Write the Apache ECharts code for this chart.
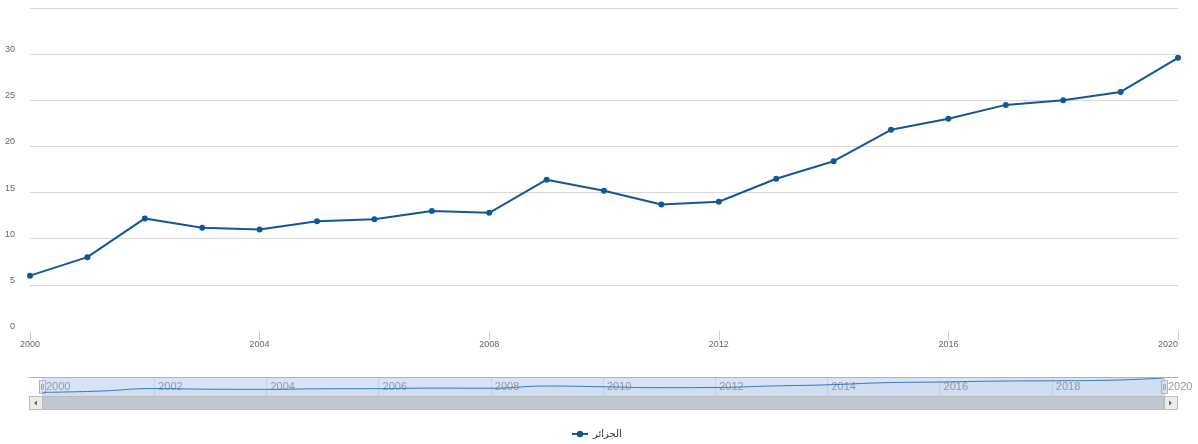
<!DOCTYPE html>
<html>
<head>
<meta charset="utf-8">
<script src="https://cdn.jsdelivr.net/npm/echarts@6/dist/echarts.min.js"></script>
<style>
html,body{margin:0;padding:0;background:#fff;}
#chart{width:1198px;height:444px;}
</style>
</head>
<body>
<div id="chart"></div>
<script>
var seriesName = 'الجزائر';
var years = [2000, 2001, 2002, 2003, 2004, 2005, 2006, 2007, 2008, 2009, 2010,
             2011, 2012, 2013, 2014, 2015, 2016, 2017, 2018, 2019, 2020];
var values = [6.0, 8.0, 12.2, 11.2, 11.0, 11.9, 12.1, 13.0, 12.8, 16.4, 15.2,
              13.7, 14.0, 16.5, 18.4, 21.8, 23.0, 24.5, 25.0, 25.9, 29.6];
var yTicks = [0, 5, 10, 15, 20, 25, 30, 35];
var xTicksMain = [2000, 2004, 2008, 2012, 2016, 2020];
var xTicksNav = [2000, 2002, 2004, 2006, 2008, 2010, 2012, 2014, 2016, 2018, 2020];

var points = years.map(function (y, i) { return [y, values[i]]; });
var FONT = '"Liberation Sans", Arial, "DejaVu Sans", sans-serif';

var chart = echarts.init(document.getElementById('chart'), null, {renderer: 'canvas'});

function handle(x) {
  return {
    type: 'group', x: x, y: 380, z: 100,
    children: [
      {type: 'rect', shape: {x: 0.5, y: 0.5, width: 6, height: 13},
       style: {fill: '#EBE7E8', stroke: '#B2B1B6', lineWidth: 1}},
      {type: 'line', shape: {x1: 2.5, y1: 4, x2: 2.5, y2: 10}, style: {stroke: '#A8A7AC', lineWidth: 1}},
      {type: 'line', shape: {x1: 4.5, y1: 4, x2: 4.5, y2: 10}, style: {stroke: '#A8A7AC', lineWidth: 1}}
    ]
  };
}
function button(x, dir) {
  var cx = x + 6.5, cy = 403;
  var pts = dir < 0 ? [[cx + 1.5, cy - 2.5], [cx + 1.5, cy + 2.5], [cx - 1.5, cy]]
                    : [[cx - 1.5, cy - 2.5], [cx - 1.5, cy + 2.5], [cx + 1.5, cy]];
  return {
    type: 'group', z: 100,
    children: [
      {type: 'rect', shape: {x: x + 0.5, y: 396.5, width: 13, height: 13},
       style: {fill: '#EBEBEB', stroke: '#BBBBBB', lineWidth: 1}},
      {type: 'polygon', shape: {points: pts}, style: {fill: '#666666'}}
    ]
  };
}

var option = {
  animation: false,
  backgroundColor: '#ffffff',
  textStyle: {fontFamily: FONT},
  grid: [
    {left: 30, right: 20, top: 8, height: 323, containLabel: false},
    {left: 42, right: 34, top: 378, height: 18, show: true,
     backgroundColor: '#D6E4F5', borderWidth: 0, containLabel: false}
  ],
  xAxis: [
    {
      type: 'value', gridIndex: 0, min: xTicksMain[0], max: xTicksMain[xTicksMain.length - 1], interval: 4,
      axisLine: {show: false},
      axisTick: {show: true, length: 9, lineStyle: {color: '#C0D0E0', width: 1}},
      splitLine: {show: false},
      axisLabel: {color: '#666666', fontSize: 9, margin: 9, fontFamily: FONT,
                  alignMinLabel: 'center', alignMaxLabel: 'right',
                  formatter: function (v) { return String(v); }}
    },
    {
      type: 'value', gridIndex: 1, min: xTicksNav[0], max: xTicksNav[xTicksNav.length - 1], interval: 2,
      axisLine: {show: false}, axisTick: {show: false},
      splitLine: {show: true, lineStyle: {color: '#C4D3E6', width: 1}},
      axisLabel: {inside: true, margin: 9, align: 'left', verticalAlign: 'middle',
                  alignMinLabel: 'left', alignMaxLabel: 'left',
                  padding: [0, 0, 0, 4], color: '#999999', fontSize: 11, fontFamily: FONT,
                  showMinLabel: true, showMaxLabel: true,
                  formatter: function (v) { return String(v); }}
    }
  ],
  yAxis: [
    {
      type: 'value', gridIndex: 0, min: yTicks[0], max: yTicks[yTicks.length - 1], interval: 5,
      axisLine: {show: false}, axisTick: {show: false},
      splitLine: {show: true, showMinLine: false, lineStyle: {color: '#D8D8D8', width: 1}},
      axisLabel: {color: '#666666', fontSize: 9, margin: 15, verticalAlign: 'bottom',
                  showMaxLabel: false, fontFamily: FONT}
    },
    {
      type: 'value', gridIndex: 1, min: 0, max: 'dataMax', show: false,
      splitLine: {show: false}
    }
  ],
  legend: {
    data: [seriesName],
    left: 566, top: 424,
    itemWidth: 16, itemHeight: 8, itemGap: 6,
    textStyle: {color: '#333333', fontSize: 10, fontFamily: FONT}
  },
  series: [
    {
      name: seriesName, type: 'line', xAxisIndex: 0, yAxisIndex: 0,
      data: points,
      color: '#13579B',
      lineStyle: {width: 2, color: '#13579B'},
      itemStyle: {color: '#13579B'},
      symbol: 'circle', symbolSize: 6, showSymbol: true,
      z: 5
    },
    {
      name: 'nav', type: 'line', xAxisIndex: 1, yAxisIndex: 1,
      data: points, smooth: true,
      lineStyle: {width: 1, color: '#3D72B8'},
      areaStyle: {color: 'rgba(69,114,167,0.06)'},
      symbol: 'none', silent: true, legendHoverLink: false
    }
  ],
  graphic: [
    {type: 'line', z: 100, shape: {x1: 29, y1: 377.5, x2: 1178, y2: 377.5},
     style: {stroke: '#B2B2B2', lineWidth: 1}},
    {type: 'rect', z: 99, shape: {x: 42.5, y: 396.5, width: 1121, height: 13},
     style: {fill: '#BFC8D1', stroke: '#BBBBBB', lineWidth: 1}},
    button(29, -1),
    button(1164, 1),
    {type: 'group', z: 100, children: [
      {type: 'line', shape: {x1: 600.5, y1: 400.5, x2: 600.5, y2: 405.5}, style: {stroke: '#555', lineWidth: 1}},
      {type: 'line', shape: {x1: 602.5, y1: 400.5, x2: 602.5, y2: 405.5}, style: {stroke: '#555', lineWidth: 1}},
      {type: 'line', shape: {x1: 604.5, y1: 400.5, x2: 604.5, y2: 405.5}, style: {stroke: '#555', lineWidth: 1}}
    ]},
    handle(39),
    handle(1161)
  ]
};
chart.setOption(option);
</script>
</body>
</html>
